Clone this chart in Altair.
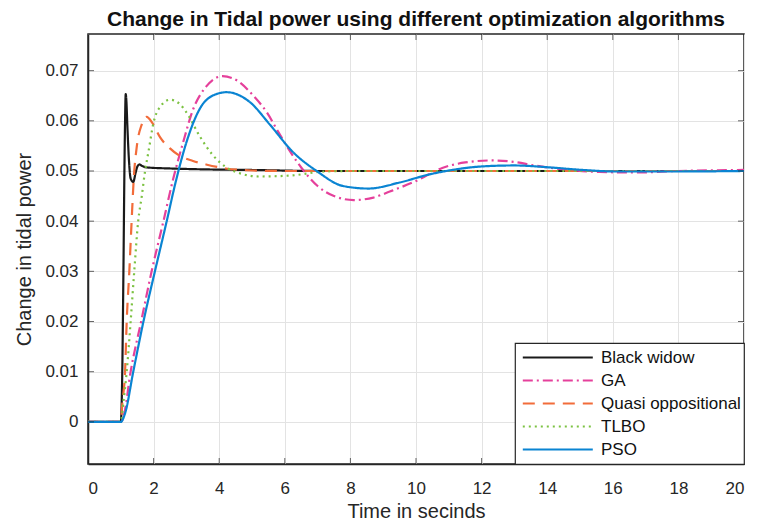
import altair as alt
import pandas as pd

FONT = "Liberation Sans"
INK = "#262626"

series = ["Black widow", "GA", "Quasi oppositional", "TLBO", "PSO"]
colors = ["#1a1a1a", "#e5409b", "#f26c3a", "#7cc242", "#0a84d2"]
dashes = [[1, 0], [10, 4, 2, 4], [12, 8], [2, 4], [1, 0]]

x_ticks = [0, 2, 4, 6, 8, 10, 12, 14, 16, 18, 20]
y_ticks = [0, 0.01, 0.02, 0.03, 0.04, 0.05, 0.06, 0.07]
x_lim = [0, 20]
y_lim = [-0.0084, 0.0773]

bw_t = [0, 1.0, 1.04, 1.08, 1.11, 1.13, 1.15, 1.17, 1.2, 1.25, 1.3, 1.38, 1.45, 1.5,
        1.57, 1.65, 1.8, 2.5, 3.7, 5.0, 7.0, 20]
bw_v = [0, 0, 0.008, 0.03, 0.05, 0.06, 0.0653, 0.064, 0.059, 0.052, 0.0485, 0.0478,
        0.0496, 0.0508, 0.0513, 0.0510, 0.0507, 0.0505, 0.0503, 0.0502, 0.0500, 0.0500]

ga_t = [0, 1.0, 1.1, 1.3, 1.62, 1.94, 2.3, 2.6, 2.9, 3.2, 3.6, 4.1, 4.6, 5.0, 5.45,
        5.8, 6.2, 6.5, 7.0, 7.5, 8.1, 8.7, 9.2, 10.0, 10.8, 11.5, 12.3, 13.0, 13.6,
        14.7, 15.6, 16.7, 18.0, 20.0]
ga_v = [0, 0, 0.0015, 0.01, 0.02, 0.03, 0.04, 0.0485, 0.0557, 0.0622, 0.0668, 0.0689,
        0.0678, 0.0653, 0.0617, 0.0578, 0.0535, 0.0507, 0.0470, 0.0450, 0.0442, 0.0447,
        0.0459, 0.0480, 0.0506, 0.0517, 0.0521, 0.0518, 0.0511, 0.0502, 0.0498, 0.0497,
        0.0500, 0.0502]

qo_t = [0, 1.0, 1.05, 1.13, 1.18, 1.26, 1.33, 1.40, 1.49, 1.64, 1.79, 1.95, 2.2, 2.5,
        2.8, 3.2, 3.6, 4.2, 5.0, 6.0, 20]
qo_v = [0, 0, 0.004, 0.01, 0.02, 0.03, 0.04, 0.049, 0.055, 0.0593, 0.0608, 0.0597,
        0.0567, 0.0545, 0.053, 0.052, 0.0513, 0.0505, 0.0501, 0.05, 0.05]

tl_t = [0, 1.0, 1.08, 1.18, 1.30, 1.41, 1.53, 1.64, 1.74, 1.84, 2.0, 2.2, 2.5, 2.75,
        3.0, 3.4, 3.8, 4.2, 4.7, 5.2, 6.2, 7.2, 8.0, 20]
tl_v = [0, 0, 0.004, 0.01, 0.02, 0.03, 0.04, 0.045, 0.05, 0.0537, 0.0597, 0.0628,
        0.0642, 0.0636, 0.0617, 0.057, 0.0532, 0.0508, 0.0494, 0.0489, 0.0491, 0.0499,
        0.05, 0.05]

ps_t = [0, 1.0, 1.13, 1.38, 1.69, 2.04, 2.4, 2.68, 3.0, 3.4, 3.9, 4.23, 4.94, 5.55,
        6.26, 6.97, 7.78, 8.55, 9.5, 10.4, 11.1, 12.0, 13.0, 14.1, 15.1, 16.1, 18.0, 20.0]
ps_v = [0, 0, 0.0017, 0.01, 0.02, 0.03, 0.04, 0.048, 0.0557, 0.0623, 0.0653, 0.0657,
        0.0637, 0.0592, 0.0537, 0.05, 0.047, 0.0465, 0.0477, 0.0493, 0.0502, 0.0509,
        0.0511, 0.0507, 0.0502, 0.0499, 0.0499, 0.05]

all_t = [bw_t, ga_t, qo_t, tl_t, ps_t]
all_v = [bw_v, ga_v, qo_v, tl_v, ps_v]

rows = []
for name, ts, vs in zip(series, all_t, all_v):
    for t, v in zip(ts, vs):
        rows.append({"series": name, "t": t, "v": v})
df = pd.DataFrame(rows)

vt = pd.DataFrame([{"t": t, "v": y} for t in x_ticks for y in y_lim])
ht = pd.DataFrame([{"t": t, "v": y} for t in x_lim for y in y_ticks])

x_scale = alt.Scale(domain=x_lim, nice=False, zero=False)
y_scale = alt.Scale(domain=y_lim, nice=False, zero=False)

x_enc = alt.X("t:Q", scale=x_scale,
              axis=alt.Axis(values=x_ticks, format="d", title="Time in secinds"))
y_enc = alt.Y("v:Q", scale=y_scale,
              axis=alt.Axis(values=y_ticks, format="~g", title="Change in tidal power"))

legend = alt.Legend(title=None, orient="bottom-right", offset=0, padding=3,
                    strokeColor=INK, fillColor="white",
                    symbolType="stroke", symbolSize=4900, symbolStrokeWidth=2.2,
                    symbolOffset=3.3,
                    labelFont=FONT, labelFontSize=17, labelColor="#111111",
                    labelOffset=6.7, clipHeight=23, rowPadding=0)

lines = alt.Chart(df).mark_line(interpolate="monotone", strokeWidth=2.2, clip=True).encode(
    x=x_enc,
    y=y_enc,
    color=alt.Color("series:N", scale=alt.Scale(domain=series, range=colors), legend=legend),
    strokeDash=alt.StrokeDash("series:N", scale=alt.Scale(domain=series, range=dashes),
                              legend=legend),
)

vticks = alt.Chart(vt).mark_tick(orient="vertical", size=12, thickness=1, color=INK,
                                 clip=True).encode(x=x_enc, y=y_enc)
hticks = alt.Chart(ht).mark_tick(orient="horizontal", size=12, thickness=1, color=INK,
                                 clip=True).encode(x=x_enc, y=y_enc)

chart = alt.layer(lines, vticks, hticks).properties(
    width=656,
    height=430,
    title="Change in Tidal power using different optimization algorithms",
    autosize=alt.AutoSizeParams(type="none"),
    padding={"left": 80, "top": 26, "right": 8, "bottom": 55},
).configure_view(
    stroke=INK, strokeWidth=1.5
).configure_axis(
    domainColor=INK, domainWidth=1.5, gridColor="#e3e3e3", gridWidth=1, tickSize=0,
    labelFont=FONT, labelFontSize=17, labelColor=INK,
    titleFont=FONT, titleFontSize=20, titleFontWeight="normal", titleColor=INK,
).configure_axisX(
    labelPadding=16, titlePadding=5
).configure_axisY(
    labelPadding=10, titlePadding=10
).configure_legend(
    strokeWidth=1.2
).configure_title(
    font=FONT, fontSize=21, fontWeight="bold", color="#111111", offset=4
)

chart.save("out.html", embed_options={"renderer": "svg", "actions": False})
